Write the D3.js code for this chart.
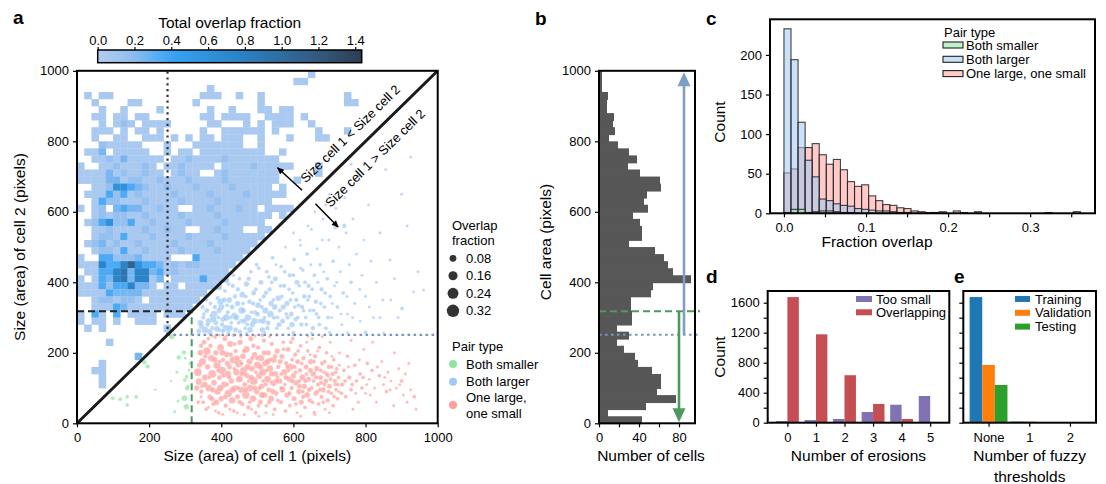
<!DOCTYPE html>
<html>
<head>
<meta charset="utf-8">
<script src="https://cdn.jsdelivr.net/npm/d3@7"></script>
<style>
  body { margin: 0; background: #fff; }
  svg { font-family: "Liberation Sans", Arial, Helvetica, sans-serif; }
</style>
</head>
<body>
<svg id="fig" width="1106" height="484"></svg>
<script>
// ---------- data ----------
// panel a: heatmap of total overlap fraction, 20 px bins, row 0 = top (980-1000)
const heatBin = 20;
const heatLevels = { '1': 0.05, '2': 0.15, '3': 0.25, '4': 0.35, '5': 0.45, '6': 0.6, '7': 0.75, '8': 0.9, '9': 1.1 };
const heatRows = [
  "................................1",
  "..............................11",
  "..................1",
  ".1.11............111..1..1...........1",
  "..1....11.......1........1...........11",
  "...1..1....1......1..1...11.11",
  "..11.11.11.......11.1111..1111.1",
  "...1.121.1111.....11...1.1.111..1",
  "..111.1.11.1.....1..111111.1.....1...1",
  "..1..11..111.1.1.11.111..1...1...11",
  "...211111...1...1111111..1",
  ".113.11111..1.11.111111111..1",
  "..1121311111.112111121111111",
  "1..11211121.1121111.1111211111...1",
  "111131211211.1211..121111111.....1",
  "1111331221121112111121111111..1",
  "..1126643211211121111211111.1",
  ".1114241211112111121111211111",
  "..1422111211112111121111111",
  "1.12.343311211..112111211.1111",
  "..1212211211112111121111111.1",
  ".1246224112111121111211111",
  "..1121111211211..112111..11",
  "..122141112111121111211111",
  ".123121121111211112111111",
  "..1221411211112111121111",
  "1..4422231111...4111111",
  "1117447964431212211111",
  ".11447837734121111111",
  "1.1437837713.11114111",
  "11142447331.11.11111",
  "111143333111111111",
  "..1221221.1111111",
  "..11143111111111",
  "1.41.4.1111.111",
  "1.11.1..111",
  ".1.1........1",
  "",
  "....1",
  "",
  "........3",
  "...1",
  "..11",
  "...1",
  "...1",
  "", "", "", "", ""
];
const colorbarTicks = [0, 0.2, 0.4, 0.6, 0.8, 1.0, 1.2, 1.4];

// panel a scatter: [cell 1 size, cell 2 size, overlap fraction x100]
const greenPairs = [
  [263,246,6],[296,201,3],[282,187,3],[187,173,3],[196,161,3],[305,99,3],[298,71,6],[303,47,5],
  [99,71,2],[120,68,2],[139,75,2],[139,52,2],[164,75,2],[217,95,0.5],[261,120,0.5],[277,145,1],
  [280,63,1],[299,123,2],[304,132,2],[307,104,2],[313,170,1],[310,151,1],[271,33,1],[300,185,1]
];
const redPairs = [
  [335,145,12],[338,118,8],[342,200,6],[345,90,3],[348,175,10],[350,60,2],[352,230,4],[355,130,7],[358,40,2],[360,205,11],
  [362,160,5],[365,100,9],[368,75,4],[370,220,3],[372,185,8],[375,140,13],[378,55,3],[380,115,6],[383,245,2],[385,200,5],
  [388,165,10],[390,90,8],[393,30,2],[395,130,4],[398,215,9],[400,70,5],[402,150,12],[405,180,3],[408,110,7],[410,240,4],
  [412,50,3],[415,195,6],[418,140,9],[420,85,11],[423,160,4],[425,225,7],[428,120,5],[430,65,8],[433,180,10],[435,35,2],
  [438,100,6],[440,205,3],[442,145,8],[445,75,4],[448,170,12],[450,125,9],[452,230,5],[455,95,7],[458,55,3],[460,190,6],
  [462,150,10],[465,110,4],[468,80,11],[470,210,8],[472,135,5],[475,45,3],[478,175,7],[480,100,9],[482,240,4],[485,155,6],
  [488,70,8],[490,120,12],[492,195,5],[495,30,2],[498,90,6],[500,165,9],[502,215,3],[505,135,7],[508,60,4],[510,185,8],
  [512,105,5],[515,145,10],[518,235,3],[520,80,6],[522,170,7],[525,50,2],[528,125,9],[530,200,5],[532,95,4],[535,155,8],
  [538,70,6],[540,225,3],[542,115,5],[545,180,7],[548,40,2],[550,140,6],[552,85,4],[555,205,5],[558,160,3],
  [340,165,4],[346,105,2],[356,190,3],[366,130,2],[376,95,5],[386,60,6],[396,175,2],[406,135,3],[416,110,2],[426,195,3],
  [436,155,2],[446,100,3],[456,170,2],[466,140,3],[476,120,2],[486,185,3],[496,145,2],[506,100,3],[516,120,2],[526,150,2],
  [536,180,3],[546,110,2],[556,130,2],[344,75,1],[364,45,1],[384,35,1],[404,25,1],[424,40,1],[444,30,1],[464,25,1],
  [484,40,1],[504,20,1],[524,30,1],[544,25,1],[374,248,1],[394,250,1],[414,248,1],[434,250,2],[454,246,1],[474,250,1],
  [494,248,1],[514,250,2],[534,246,1],[554,250,1],
  [562,120,5],[565,60,3],[568,190,4],[570,95,6],[572,230,2],[575,145,7],[578,35,2],[580,170,3],[582,80,5],[585,210,4],
  [588,125,6],[590,50,2],[592,160,8],[595,100,3],[598,240,2],[600,135,5],[602,70,4],[605,195,3],[608,115,6],[610,30,1],
  [612,175,4],[615,90,5],[618,150,3],[620,220,2],[622,60,4],[625,130,7],[628,185,3],[630,105,5],[632,45,2],[635,160,4],
  [638,80,6],[640,205,2],[642,125,4],[645,65,3],[648,175,5],[650,100,3],[652,240,1],[655,140,6],[658,30,2],[660,190,3],
  [662,85,4],[665,155,5],[668,110,3],[670,55,2],[672,215,2],[675,130,4],[678,75,3],[680,170,3],[682,95,5],[685,145,2],
  [688,40,1],[690,120,4],[692,200,2],[695,65,3],[698,160,3],[700,105,4],[702,230,1],[705,85,2],[708,140,3],[710,50,2],
  [712,180,2],[715,120,3],[718,95,2],[720,155,2],[722,70,2],[725,130,2],[728,200,1],
  [566,140,2],[576,110,2],[586,150,2],[596,180,2],[606,145,2],[616,120,2],[626,90,2],[636,140,2],[646,195,1],[656,120,2],
  [666,90,2],[676,150,2],[686,110,2],[696,135,2],[706,160,2],[716,110,2],[726,90,1],[600,250,1],[640,248,1],[680,246,1],
  [620,20,1],[660,25,1],[700,30,1],
  [735,110,3],[740,150,2],[745,75,2],[750,190,2],[755,130,3],[760,95,2],[765,40,1],[770,165,2],[775,120,2],[780,60,1],
  [785,140,2],[790,100,2],[795,210,1],[800,85,1],[805,170,2],[810,125,1],[818,150,2],[825,100,1],[830,60,1],[838,135,2],
  [845,175,1],[850,110,1],[858,90,2],[862,145,1],[870,120,1],[878,50,1],[885,100,1],[892,155,1],[900,120,2],[905,80,1],
  [915,60,1],[925,95,1],[935,75,2],[940,40,1],[760,235,1],[820,230,1],[880,200,1],
  [332,100,5],[336,60,2],[344,220,3],[354,110,6],[364,240,2],[374,70,4],[382,180,6],[392,150,3],[397,100,8],[403,200,6],
  [411,75,4],[417,170,5],[422,130,3],[432,95,7],[437,225,2],[444,185,5],[451,60,3],[457,140,4],[463,205,3],[467,95,5],
  [473,160,6],[479,60,2],[483,130,5],[489,220,3],[493,100,4],[499,185,3],[503,50,2],[509,160,5],[513,80,7],[519,200,4],
  [523,110,3],[529,175,6],[533,60,3],[539,140,4],[543,90,5],[549,190,3],[553,120,5],[557,65,2],[563,175,4],[567,100,3],
  [573,210,2],[579,130,4],[583,160,3],[589,85,3],[593,230,2],[597,120,4],[603,160,3],[607,55,2],[613,205,2],[617,105,4],
  [623,170,2],[627,75,3],[633,120,3],[637,230,1],[643,95,3],[647,150,4],[653,60,2],[657,175,2],[663,130,3],[667,205,1],
  [673,95,2],[677,115,3],[683,60,2],[687,175,2],[693,140,3],[697,90,2],[703,125,2],[707,190,1],[713,75,2],[717,145,2],
  [723,110,2],[727,165,1],[733,85,2],[743,120,2],[753,160,1],[763,110,2],[773,85,1],[783,180,1],[793,130,2],[803,110,1],
  [813,80,1],[833,160,1],[853,130,1],[868,95,1],[895,110,1],[910,140,1],[920,170,1]
];
const bluePairs = [
  [345,275,5],[350,300,3],[355,265,8],[360,320,4],[365,290,6],[370,340,2],[375,270,3],[380,310,9],[385,285,4],[390,355,3],
  [395,265,2],[400,330,7],[405,295,5],[410,375,2],[412,270,8],[418,315,3],[422,350,6],[428,285,2],[432,390,3],[436,305,7],
  [440,265,4],[445,340,5],[450,410,2],[455,290,3],[458,365,6],[462,320,4],[466,270,2],[470,395,5],[474,300,8],[478,345,3],
  [482,430,2],[486,280,5],[490,370,4],[494,315,3],[498,450,2],[502,335,6],[506,290,3],[510,400,4],[514,265,5],[518,360,3],
  [522,320,7],[526,430,2],[530,285,4],[534,380,3],[538,340,5],[542,470,2],[546,300,3],[550,410,4],[554,270,2],[558,355,6],
  [562,320,3],[566,445,2],[570,290,4],[574,390,3],[578,500,1],[582,340,5],[586,270,2],[590,420,3],[594,310,4],[598,370,2],
  [602,465,2],[606,295,3],[610,400,4],[614,335,2],[618,520,1],[622,280,3],[626,435,2],[630,360,3],[634,300,2],[638,480,2],
  [642,390,3],[646,320,2],[650,550,1],[654,270,3],[658,420,2],[662,345,3],[666,495,1],[670,300,2],[674,450,2],[678,380,3],
  [682,580,1],[686,330,2],[690,270,2],[694,410,2],[698,520,1],[702,360,2],[706,300,1],[710,460,2],[714,390,1],[718,610,1],
  [722,330,2],[726,500,1],[730,430,1],[734,280,1],[738,370,2],[742,640,1],[746,540,1],[750,310,1],[755,450,1],[760,400,2],
  [765,580,1],[770,340,1],[775,480,1],[780,700,1],[785,290,1],[790,420,1],[795,520,1],[800,360,1],[808,620,1],[815,460,1],
  [822,300,1],[830,400,1],[840,540,1],[848,350,1],[856,720,1],[868,463,1],[880,410,1],[890,300,1],[901,326,2],[915,560,1],
  [933,373,1],[945,430,1],[961,378,1],[925,755,1],[900,650,1],[760,735,1],[741,560,3],[716,555,2],[700,650,1],[690,620,1],
  [660,600,1],[640,560,1],[600,540,1],[620,505,1],[680,520,1],
  [420,258,2],[470,256,1],[520,258,1],[600,257,2],[650,256,1],[700,258,1],[750,257,1],[800,258,2],[850,256,1],
  [352,310,2],[362,280,3],[372,305,2],[382,330,3],[392,300,2],[402,280,3],[416,335,2],[426,300,2],[438,360,3],[448,285,2],
  [460,340,2],[472,280,2],[484,315,2],[496,380,2],[508,350,2],[520,300,2],[532,415,2],[544,350,2],[556,300,2],[568,360,2],
  [580,310,2],[592,350,2],[604,330,2],[616,390,2],[628,320,2],[640,350,2],[652,380,2],[664,310,2],[676,340,2],[688,370,2],
  [338,262,4],[342,285,6],[348,330,3],[358,350,2],[368,260,5],[372,372,2],[378,295,7],[384,400,2],[388,268,6],[394,320,5],
  [398,345,8],[404,262,3],[408,350,4],[414,300,9],[420,395,2],[424,270,6],[430,330,4],[434,420,2],[442,300,6],[446,380,3],
  [452,260,3],[456,320,8],[464,290,5],[468,360,2],[476,410,3],[480,265,6],[488,340,3],[492,290,7],[500,310,4],[504,440,2],
  [512,330,3],[516,290,6],[524,370,3],[528,270,3],[536,310,8],[540,400,2],[548,330,6],[552,450,1],[560,280,4],[564,390,2],
  [572,330,5],[576,430,2],[584,300,3],[588,380,2],[596,280,5],[600,420,2],[608,350,3],[612,300,2],[620,440,1],[624,330,3],
  [632,400,2],[636,280,2],[644,360,2],[648,450,1],[656,320,2],[668,400,1],[672,280,2],[684,430,1],[696,300,2],[708,340,1],
  [720,400,1],[732,310,1],[748,360,1],[764,300,1],[784,380,1],[810,330,1],[840,300,1],[870,350,1]
];
const smallThreshold = 318;   // both-smaller cutoff
const largeThreshold = 251;   // both-larger cutoff
const overlapLegend = [0.08, 0.16, 0.24, 0.32];
const pairTypes = ["Both smaller", "Both larger", "One large,\none small"];
const pairColors = ["#8de5a1", "#a1c9f4", "#ff9f9b"];

// panel b: cell area histogram, 20 px bins from 0 upward
const areaBin = 20;
const cellAreaCounts = [43,9,47,77,58,62,62,53,39,36,25,18,30,18,33,33,32,32,52,54,
  92,74,69,65,56,30,43,43,41,34,49,45,48,62,61,41,29,38,30,19,10,16,14,15,8,8,9,3,3,3];

// panel c: fraction overlap histograms
const fracBinWidth = 0.0086;
const histSmaller = [1,5,5,1,2,3,3,2,1,1,0,0,0,0,0,0,0,0,0,0,0,0,0,0,0,0,0,0,0,0,0,0,0,0,0,0,0,0,0,0,0,0,0];
const histLarger  = [233,194,115,67,46,18,16,12,10,9,6,5,4,3,3,2,1,1,0,0,0,1,0,0,0,0,0,0,0,0,0,0,0,0,0,0,0,0,0,0,0,0,0];
const histMixed   = [51,56,83,83,88,74,62,68,55,40,34,36,22,16,11,10,7,6,3,2,1,1,2,0,3,1,0,2,0,0,0,0,0,0,0,0,0,1,0,0,0,2,0];

// panel d
const erosions = ["0", "1", "2", "3", "4", "5"];
const tooSmall = [22, 35, 50, 143, 240, 356];
const overlapping = [1675, 1178, 633, 250, 50, 0];

// panel e
const fuzzyCats = ["None", "1", "2"];
const training = [1675, 15, 0];
const validation = [770, 15, 0];
const testing = [503, 0, 0];

// ---------- helpers ----------
const svg = d3.select('#fig');
const defs = svg.append('defs');

function styleAxis(g) {
  g.attr('font-family', null).attr('font-size', 13);
  g.select('.domain').remove();
  g.selectAll('.tick line').attr('stroke', '#000').attr('stroke-width', 1.2);
  g.selectAll('.tick text').attr('fill', '#000');
}
function box(x0, y0, x1, y1) {
  svg.append('rect').attr('x', x0).attr('y', y0).attr('width', x1 - x0).attr('height', y1 - y0)
    .attr('fill', 'none').attr('stroke', '#000').attr('stroke-width', 2);
}
function text(str, x, y, opts = {}) {
  const t = svg.append('text').attr('x', x).attr('y', y).text(str)
    .attr('font-size', opts.size || 13).attr('fill', '#000')
    .attr('text-anchor', opts.anchor || 'start');
  if (opts.bold) t.attr('font-weight', 'bold');
  if (opts.rotate !== undefined) t.attr('transform', `rotate(${opts.rotate},${x},${y})`);
  return t;
}
function line(x1, y1, x2, y2, color, width, dash) {
  const l = svg.append('line').attr('x1', x1).attr('y1', y1).attr('x2', x2).attr('y2', y2)
    .attr('stroke', color).attr('stroke-width', width);
  if (dash) l.attr('stroke-dasharray', dash);
  return l;
}
function head(x, y, dir, len, halfW, color) {
  // vertical arrow head; dir = -1 points up, 1 points down
  svg.append('path')
    .attr('d', `M${x},${y} L${x - halfW},${y - dir * len} L${x + halfW},${y - dir * len} Z`)
    .attr('fill', color);
}
const intFmt = d3.format('d');

defs.append('marker').attr('id', 'blackHead').attr('viewBox', '0 0 10 10')
  .attr('refX', 9).attr('refY', 5).attr('markerWidth', 8).attr('markerHeight', 7)
  .attr('markerUnits', 'userSpaceOnUse').attr('orient', 'auto')
  .append('path').attr('d', 'M0,0.5 L10,5 L0,9.5 Z').attr('fill', '#000');

// ---------- panel a ----------
const xA = d3.scaleLinear().domain([0, 1000]).range([77, 437.7]);
const yA = d3.scaleLinear().domain([0, 1000]).range([423.3, 70.8]);
const heatColor = d3.scaleLinear()
  .domain([0, 0.2, 0.4, 0.8, 1.2, 1.435])
  .range(['#b3cdf0', '#8cbcf0', '#36a3f5', '#2a80c2', '#34597d', '#2d3d53'])
  .clamp(true);
const rSize = d3.scaleSqrt().domain([0, 0.32]).range([0.6, 6.2]);

defs.append('clipPath').attr('id', 'clipA').append('rect')
  .attr('x', xA(0)).attr('y', yA(1000)).attr('width', xA(1000) - xA(0)).attr('height', yA(0) - yA(1000));
const gA = svg.append('g').attr('clip-path', 'url(#clipA)');

const heatCells = [];
heatRows.forEach((row, r) => {
  row.split('').forEach((ch, c) => {
    if (heatLevels[ch] !== undefined) heatCells.push({ r, c, v: heatLevels[ch] });
  });
});
gA.selectAll('rect.heat').data(heatCells).enter().append('rect')
  .attr('class', 'heat')
  .attr('x', d => xA(d.c * heatBin))
  .attr('y', d => yA(1000 - d.r * heatBin))
  .attr('width', xA(heatBin) - xA(0) + 0.3)
  .attr('height', d => yA(1000 - (d.r + 1) * heatBin) - yA(1000 - d.r * heatBin) + 0.3)
  .attr('fill', d => heatColor(d.v));

[[redPairs, pairColors[2]], [bluePairs, pairColors[1]], [greenPairs, pairColors[0]]].forEach(([pts, col]) => {
  gA.append('g').selectAll('circle').data(pts).enter().append('circle')
    .attr('cx', d => xA(d[0])).attr('cy', d => yA(d[1])).attr('r', d => rSize(d[2] / 100))
    .attr('fill', col).attr('fill-opacity', 0.72)
    .attr('stroke', '#fff').attr('stroke-width', 0.4).attr('stroke-opacity', 0.8);
});

// threshold guides
line(xA(0), yA(smallThreshold), xA(smallThreshold), yA(smallThreshold), '#222', 2, '7,4');
line(xA(smallThreshold), yA(0), xA(smallThreshold), yA(smallThreshold), '#4c9a5e', 2, '7,4');
line(xA(largeThreshold), yA(largeThreshold), xA(largeThreshold), yA(1000), '#333', 2.2, '2.2,3.6');
line(xA(largeThreshold), yA(largeThreshold), xA(1000), yA(largeThreshold), '#7a96bf', 2.2, '2.6,3.4');
line(xA(0), yA(0), xA(1000), yA(1000), '#1a1a1a', 3);

// annotations
const diagAngle = -Math.atan2(yA(0) - yA(1000), xA(1000) - xA(0)) * 180 / Math.PI;
text('Size cell 1 < Size cell 2', xA(634), yA(680), { size: 13, rotate: diagAngle });
text('Size cell 1 > Size cell 2', xA(703), yA(611), { size: 13, rotate: diagAngle });
line(xA(624), yA(661), xA(556), yA(725), '#000', 1.5).attr('marker-end', 'url(#blackHead)');
line(xA(661), yA(623), xA(724), yA(557), '#000', 1.5).attr('marker-end', 'url(#blackHead)');

const axAx = svg.append('g').attr('transform', `translate(0,${yA(0)})`)
  .call(d3.axisBottom(xA).tickValues([0, 200, 400, 600, 800, 1000]).tickFormat(intFmt).tickSize(4).tickPadding(5));
styleAxis(axAx);
const axAy = svg.append('g').attr('transform', `translate(${xA(0)},0)`)
  .call(d3.axisLeft(yA).tickValues([0, 200, 400, 600, 800, 1000]).tickFormat(intFmt).tickSize(4).tickPadding(4));
styleAxis(axAy);
box(xA(0), yA(1000), xA(1000), yA(0));
text('Size (area) of cell 1 (pixels)', (xA(0) + xA(1000)) / 2, 461, { size: 15.5, anchor: 'middle' });
text('Size (area) of cell 2 (pixels)', 25, (yA(0) + yA(1000)) / 2, { size: 15.5, anchor: 'middle', rotate: -90 });

// colorbar
const cbX = d3.scaleLinear().domain([0, 1.435]).range([97.7, 361.7]);
const grad = defs.append('linearGradient').attr('id', 'cbGrad');
d3.range(0, 1.001, 0.05).forEach(t => {
  grad.append('stop').attr('offset', `${t * 100}%`).attr('stop-color', heatColor(t * 1.435));
});
svg.append('rect').attr('x', cbX(0)).attr('y', 50).attr('width', cbX(1.435) - cbX(0)).attr('height', 12.7)
  .attr('fill', 'url(#cbGrad)').attr('stroke', '#000').attr('stroke-width', 1.5);
const cbAxis = svg.append('g').attr('transform', 'translate(0,50)')
  .call(d3.axisTop(cbX).tickValues(colorbarTicks).tickFormat(d3.format('.1f')).tickSize(3).tickPadding(2));
styleAxis(cbAxis);
text('Total overlap fraction', (cbX(0) + cbX(1.435)) / 2, 28, { size: 15.5, anchor: 'middle' });

// legend a
text('Overlap', 452, 230);
text('fraction', 452, 244.5);
overlapLegend.forEach((v, i) => {
  const cy = 258.3 + i * 17.5;
  svg.append('circle').attr('cx', 453).attr('cy', cy).attr('r', rSize(v)).attr('fill', '#333');
  text(v.toFixed(2), 466, cy + 4.6);
});
text('Pair type', 452, 351);
pairTypes.forEach((name, i) => {
  const cy = [364, 381.7, 405][i];
  svg.append('circle').attr('cx', 453).attr('cy', cy).attr('r', 4).attr('fill', pairColors[i]);
  const parts = name.split('\n');
  parts.forEach((p, j) => {
    text(p, 466, (parts.length > 1 ? cy - 3 : cy + 4.6) + j * 15.5);
  });
});

// ---------- panel b ----------
const xB = d3.scaleLinear().domain([0, 96]).range([599, 695]);
const yB = yA;
svg.append('g').selectAll('rect').data(cellAreaCounts).enter().append('rect')
  .attr('x', xB(0))
  .attr('y', (d, k) => yB((k + 1) * areaBin))
  .attr('width', d => xB(d) - xB(0))
  .attr('height', (d, k) => yB(k * areaBin) - yB((k + 1) * areaBin) + 0.9)
  .attr('fill', '#575757');
line(xB(0), yB(smallThreshold), xB(101), yB(smallThreshold), '#4c9a5e', 2, '7,4');
line(xB(0), yB(largeThreshold), xB(101), yB(largeThreshold), '#7a96bf', 2, '2.6,3.4');
line(xB(85), yB(largeThreshold), xB(85), yB(1000) + 12, '#7f9ec6', 2.6);
head(xB(85), yB(1000) + 1.5, -1, 14, 6.5, '#7f9ec6');
line(xB(80), yB(smallThreshold), xB(80), yB(0) - 12, '#4c9a5e', 2.6);
head(xB(80), yB(0) - 1, 1, 14, 6.5, '#4c9a5e');
const axBx = svg.append('g').attr('transform', `translate(0,${yB(0)})`)
  .call(d3.axisBottom(xB).tickValues([0, 20, 40, 60, 80]).tickFormat(d => d % 40 === 0 ? d : '').tickSize(4).tickPadding(5));
styleAxis(axBx);
const axBy = svg.append('g').attr('transform', `translate(${xB(0)},0)`)
  .call(d3.axisLeft(yB).tickValues([0, 200, 400, 600, 800, 1000]).tickFormat(intFmt).tickSize(4).tickPadding(4));
styleAxis(axBy);
box(xB(0), yB(1000), xB(96), yB(0));
text('Number of cells', 651, 461, { size: 15.5, anchor: 'middle' });
text('Cell area (pixels)', 551, 242, { size: 15.5, anchor: 'middle', rotate: -90 });

// ---------- panel c ----------
const xC = d3.scaleLinear().domain([-0.017, 0.379]).range([770, 1095]);
const yC = d3.scaleLinear().domain([0, 245]).range([213.3, 19.3]);
[[histMixed, pairColors[2]], [histLarger, pairColors[1]], [histSmaller, pairColors[0]]].forEach(([counts, col]) => {
  svg.append('g').selectAll('rect').data(counts.map((c, i) => ({ c, i })).filter(d => d.c > 0)).enter().append('rect')
    .attr('x', d => xC(d.i * fracBinWidth))
    .attr('y', d => yC(d.c))
    .attr('width', xC(fracBinWidth) - xC(0))
    .attr('height', d => yC(0) - yC(d.c))
    .attr('fill', col).attr('fill-opacity', 0.55)
    .attr('stroke', '#222').attr('stroke-width', 1.1).attr('stroke-opacity', 0.85);
});
const axCx = svg.append('g').attr('transform', `translate(0,${yC(0)})`)
  .call(d3.axisBottom(xC).tickValues([0, 0.05, 0.1, 0.15, 0.2, 0.25, 0.3, 0.35])
    .tickFormat(d => Math.round(d * 100) % 10 === 0 ? d.toFixed(1) : '').tickSize(4).tickPadding(5));
styleAxis(axCx);
const axCy = svg.append('g').attr('transform', `translate(${xC(-0.017)},0)`)
  .call(d3.axisLeft(yC).tickValues([0, 50, 100, 150, 200]).tickSize(4).tickPadding(4));
styleAxis(axCy);
box(770, yC(245), 1095, yC(0));
text('Fraction overlap', 877, 247, { size: 15.5, anchor: 'middle' });
text('Count', 725, 122, { size: 15.5, anchor: 'middle', rotate: -90 });
text('Pair type', 944, 37);
["Both smaller", "Both larger", "One large, one small"].forEach((name, i) => {
  const cy = 45 + i * 14.3;
  svg.append('rect').attr('x', 943).attr('y', cy - 3).attr('width', 20).attr('height', 6)
    .attr('fill', pairColors[i]).attr('fill-opacity', 0.55).attr('stroke', '#222').attr('stroke-width', 1.1);
  text(name, 966, cy + 4.6);
});

// ---------- panel d ----------
const yD = d3.scaleLinear().domain([0, 1756]).range([422.7, 291]);
const xD = d3.scaleLinear().domain([-0.69, 5.67]).range([767.7, 949.3]);
const barWD = (xD(1) - xD(0)) * 0.4;
[[tooSmall, '#8172b3', -1], [overlapping, '#c44e52', 0]].forEach(([vals, col, off]) => {
  svg.append('g').selectAll('rect').data(vals).enter().append('rect')
    .attr('x', (d, i) => xD(i) + off * barWD)
    .attr('y', d => yD(d))
    .attr('width', barWD)
    .attr('height', d => yD(0) - yD(d))
    .attr('fill', col);
});
const axDx = svg.append('g').attr('transform', `translate(0,${yD(0)})`)
  .call(d3.axisBottom(xD).tickValues(d3.range(erosions.length)).tickFormat(i => erosions[i]).tickSize(4).tickPadding(6));
styleAxis(axDx);
const axDy = svg.append('g').attr('transform', `translate(${xD(-0.69)},0)`)
  .call(d3.axisLeft(yD).tickValues(d3.range(0, 1601, 200)).tickFormat(d => d % 400 === 0 ? d : '').tickSize(4).tickPadding(4));
styleAxis(axDy);
box(767.7, yD(1756), 949.3, yD(0));
text('Number of erosions', (767.7 + 949.3) / 2, 461, { size: 15.5, anchor: 'middle' });
text('Count', 725, 357, { size: 15.5, anchor: 'middle', rotate: -90 });
[["Too small", '#8172b3'], ["Overlapping", '#c44e52']].forEach(([name, col], i) => {
  const cy = 299 + i * 13.3;
  svg.append('rect').attr('x', 856).attr('y', cy - 3).attr('width', 16).attr('height', 6).attr('fill', col);
  text(name, 876, cy + 4.6);
});

// ---------- panel e ----------
const xE = d3.scaleLinear().domain([-0.62, 2.64]).range([963.3, 1096]);
const barWE = (xE(1) - xE(0)) * 0.31;
[[training, '#1f77b4', -1.5], [validation, '#ff7f0e', -0.5], [testing, '#2ca02c', 0.5]].forEach(([vals, col, off]) => {
  svg.append('g').selectAll('rect').data(vals).enter().append('rect')
    .attr('x', (d, i) => xE(i) + off * barWE)
    .attr('y', d => yD(d))
    .attr('width', barWE)
    .attr('height', d => yD(0) - yD(d))
    .attr('fill', col);
});
const axEx = svg.append('g').attr('transform', `translate(0,${yD(0)})`)
  .call(d3.axisBottom(xE).tickValues(d3.range(fuzzyCats.length)).tickFormat(i => fuzzyCats[i]).tickSize(4).tickPadding(6));
styleAxis(axEx);
const axEy = svg.append('g').attr('transform', `translate(${xE(-0.62)},0)`)
  .call(d3.axisLeft(yD).tickValues(d3.range(0, 1601, 200)).tickFormat('').tickSize(4));
styleAxis(axEy);
box(963.3, yD(1756), 1096, yD(0));
text('Number of fuzzy', (963.3 + 1096) / 2, 461, { size: 15.5, anchor: 'middle' });
text('thresholds', (963.3 + 1096) / 2, 482, { size: 15.5, anchor: 'middle' });
[["Training", '#1f77b4'], ["Validation", '#ff7f0e'], ["Testing", '#2ca02c']].forEach(([name, col], i) => {
  const cy = 299 + i * 13.8;
  svg.append('rect').attr('x', 1015).attr('y', cy - 3).attr('width', 15).attr('height', 6).attr('fill', col);
  text(name, 1035, cy + 4.6);
});

// ---------- panel letters ----------
text('a', 13, 24, { size: 19, bold: true });
text('b', 535, 25, { size: 19, bold: true });
text('c', 706, 25, { size: 19, bold: true });
text('d', 706, 283, { size: 19, bold: true });
text('e', 954, 283, { size: 19, bold: true });
</script>
</body>
</html>
